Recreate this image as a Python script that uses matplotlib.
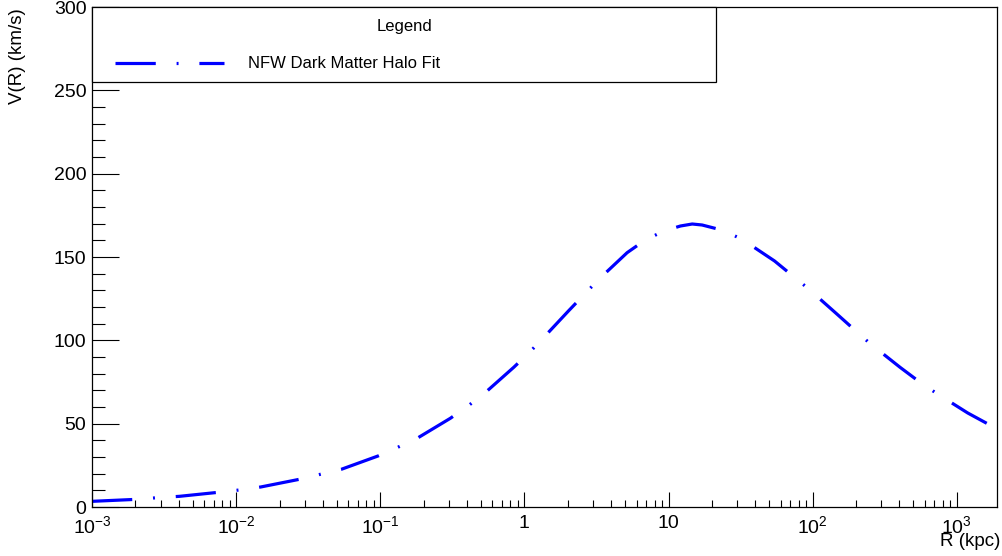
import matplotlib
matplotlib.use("Agg")
import matplotlib.pyplot as plt
from matplotlib.lines import Line2D
from matplotlib.patches import Rectangle
from matplotlib.ticker import FixedLocator, FixedFormatter, LogLocator, NullFormatter, MultipleLocator

plt.rcParams['font.family'] = ['Liberation Sans', 'DejaVu Sans']
plt.rcParams['mathtext.fontset'] = 'custom'
plt.rcParams['mathtext.rm'] = 'Liberation Sans'
plt.rcParams['mathtext.it'] = 'Liberation Sans:italic'
plt.rcParams['lines.scale_dashes'] = False

# values
r_kpc = [0.001, 0.00204, 0.00286, 0.00404, 0.0075, 0.0105, 0.0148, 0.0274, 0.0383,
         0.0536, 0.0964, 0.132, 0.18, 0.306, 0.406, 0.536, 0.843, 1.09, 1.33, 2.03,
         2.58, 3.28, 5.16, 6.84, 9.27, 12.1, 14.6, 17.1, 23.8, 32.4, 54.4, 71, 92.7, 148,
         190, 249, 404, 533, 711, 1191, 1614, 1900]
v_kms = [3.4, 4.6, 5.6, 6.4, 8.8, 10.2, 12.0, 16.6, 19.6,
         22.6, 30.6, 35.8, 41.2, 53.2, 60.6, 68.7, 83.8, 93.0, 100.8, 117.8,
         127.2, 136.6, 152.6, 160.0, 165.6, 168.6, 169.8, 169.2, 166.0, 160.6, 147.6, 139.4, 131.2, 115.6,
         107.2, 98.2, 83.8, 76.0, 68.6, 56.4, 50.2, 47.4]

x_ticks = [1e-3, 1e-2, 1e-1, 1, 10, 100, 1000]
x_labels = [r'$10^{-3}$', r'$10^{-2}$', r'$10^{-1}$', '1', '10', r'$10^{2}$', r'$10^{3}$']
y_ticks = [0, 50, 100, 150, 200, 250, 300]

W, H = 1002, 556
fig = plt.figure(figsize=(W / 100, H / 100), dpi=100)
ax = fig.add_axes([92 / W, (H - 507) / H, (997 - 92) / W, 500 / H])

dash = (0, (29, 15, 1.4, 15))
ax.plot(r_kpc, v_kms, color='#0000ff', lw=2.3, ls=dash, dash_capstyle='butt', solid_capstyle='butt')

ax.set_xscale('log')
ax.set_xlim(1e-3, 1.9e3)
ax.set_ylim(0, 300)

ax.xaxis.set_major_locator(FixedLocator(x_ticks))
ax.xaxis.set_major_formatter(FixedFormatter(x_labels))
ax.xaxis.set_minor_locator(LogLocator(base=10, subs=range(2, 10), numticks=50))
ax.xaxis.set_minor_formatter(NullFormatter())
ax.yaxis.set_major_locator(FixedLocator(y_ticks))
ax.yaxis.set_minor_locator(MultipleLocator(10))

ax.tick_params(axis='x', which='major', direction='in', length=10.8, width=0.8, pad=6, labelsize=14)
ax.tick_params(axis='x', which='minor', direction='in', length=5, width=0.8)
ax.tick_params(axis='y', which='major', direction='in', length=19.4, width=0.8, pad=4, labelsize=14)
ax.tick_params(axis='y', which='minor', direction='in', length=9.4, width=0.8)
for s in ax.spines.values():
    s.set_linewidth(0.9)

fig.text(18 / W, 1 - 8 / H, 'V(R) (km/s)', rotation=90, ha='center', va='top', fontsize=13.5)
fig.text(1000 / W, 1 - 541 / H, 'R (kpc)', ha='right', va='center', fontsize=13.5)

# legend box drawn by hand (ROOT style)
fig.add_artist(Rectangle((92 / W, 1 - 82 / H), (716 - 92) / W, 75 / H, transform=fig.transFigure,
                         facecolor='white', edgecolor='black', lw=0.9, zorder=5))
fig.text(404 / W, 1 - 26 / H, 'Legend', ha='center', va='center', fontsize=12, zorder=6)
fig.add_artist(Line2D([115 / W, 224 / W], [1 - 63 / H, 1 - 63 / H], transform=fig.transFigure,
                      color='#0000ff', lw=2.3, ls=dash, dash_capstyle='butt', zorder=6))
fig.text(248 / W, 1 - 63 / H, 'NFW Dark Matter Halo Fit', ha='left', va='center', fontsize=12, zorder=6)

fig.savefig('out.png', dpi=100)
